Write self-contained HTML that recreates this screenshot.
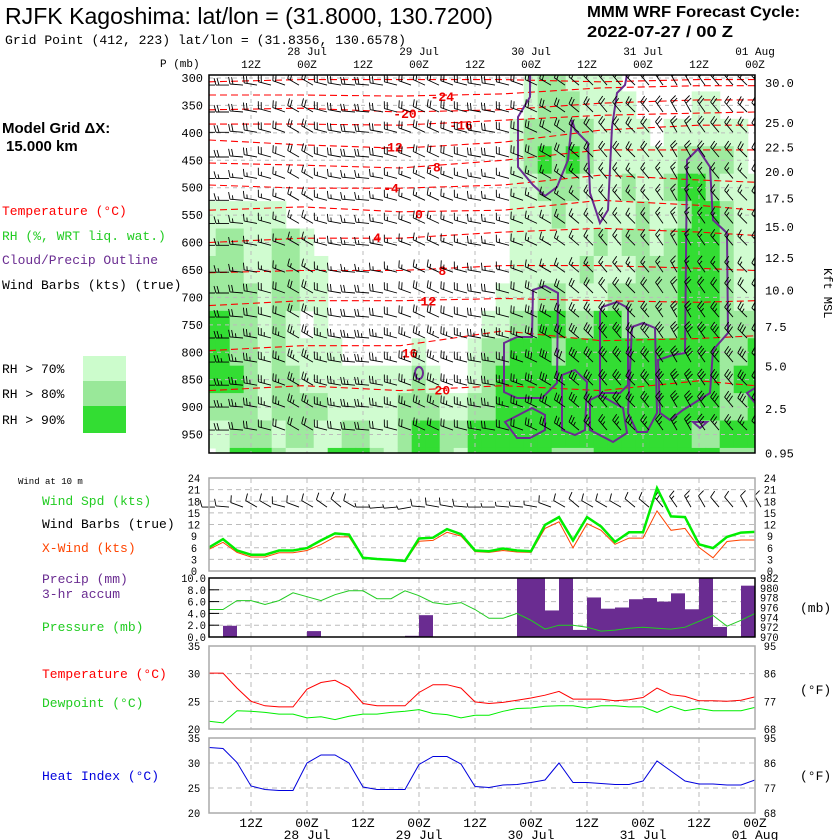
<!DOCTYPE html>
<html><head><meta charset="utf-8"><style>
html,body{margin:0;padding:0;background:#fff;}
svg{display:block;}
text{font-family:"Liberation Mono",monospace;}
.hd{font-family:"Liberation Sans",sans-serif;}
</style></head><body>
<svg id="chart" width="840" height="840" viewBox="0 0 840 840" xmlns="http://www.w3.org/2000/svg">
<g>
<text class="hd" x="5" y="24" font-size="23" textLength="488" lengthAdjust="spacingAndGlyphs">RJFK Kagoshima:  lat/lon = (31.8000, 130.7200)</text>
<text x="5" y="44" font-size="13" textLength="401" lengthAdjust="spacingAndGlyphs">Grid Point (412, 223) lat/lon = (31.8356, 130.6578)</text>
<text class="hd" x="587" y="17" font-size="16" font-weight="bold" textLength="213" lengthAdjust="spacingAndGlyphs">MMM WRF Forecast Cycle:</text>
<text class="hd" x="587" y="37" font-size="16" font-weight="bold" textLength="146" lengthAdjust="spacingAndGlyphs">2022-07-27 / 00  Z</text>
<text x="160" y="67" font-size="11">P (mb)</text>
</g>
<g>
<text class="hd" x="2" y="133" font-size="15" font-weight="bold">Model Grid ΔX:</text>
<text class="hd" x="6" y="151" font-size="15" font-weight="bold">15.000 km</text>
<text x="2" y="215" font-size="13" fill="#ff0000">Temperature (°C)</text>
<text x="2" y="240" font-size="13" fill="#22cc22">RH (%, WRT liq. wat.)</text>
<text x="2" y="264" font-size="13" fill="#6a2c91">Cloud/Precip Outline</text>
<text x="2" y="289" font-size="13" fill="#000">Wind Barbs (kts) (true)</text>
<rect x="83" y="356" width="43" height="25" fill="#ccfccc"/>
<rect x="83" y="381" width="43" height="25" fill="#99e899"/>
<rect x="83" y="406" width="43" height="27" fill="#33dd33"/>
<text x="2" y="373" font-size="13">RH &gt; 70%</text>
<text x="2" y="398" font-size="13">RH &gt; 80%</text>
<text x="2" y="424" font-size="13">RH &gt; 90%</text>
<text x="18" y="484" font-size="9">Wind at 10 m</text>
<text x="42" y="505" font-size="13" fill="#22cc22">Wind Spd (kts)</text>
<text x="42" y="528" font-size="13">Wind Barbs (true)</text>
<text x="42" y="552" font-size="13" fill="#ff4400">X-Wind (kts)</text>
<text x="42" y="583" font-size="13" fill="#6a2c91">Precip (mm)</text>
<text x="42" y="598" font-size="13" fill="#6a2c91">3-hr accum</text>
<text x="42" y="631" font-size="13" fill="#22cc22">Pressure (mb)</text>
<text x="42" y="678" font-size="13" fill="#ff0000">Temperature (°C)</text>
<text x="42" y="707" font-size="13" fill="#22cc22">Dewpoint (°C)</text>
<text x="42" y="780" font-size="13" fill="#0000dd">Heat Index (°C)</text>
<text x="800" y="612" font-size="13">(mb)</text>
<text x="800" y="694" font-size="13">(°F)</text>
<text x="800" y="780" font-size="13">(°F)</text>
<text x="0" y="0" font-size="12" transform="translate(824,268) rotate(90)">Kft MSL</text>
</g>
<g id="plots"></g>
</svg>
<script>
// ---------- data ----------
const hours = [3,6,9,12,15,18,21,24,27,30,33,36,39,42,45,48,51,54,57,60,63,66,69,72,75,78,81,84,87,90,93,96,99,102,105,108,111,114,117,120];
const windSpeed = [6.1,8.2,5.3,4.2,4.2,5.3,5.3,5.9,7.9,9.7,9.4,3.4,3.1,2.9,2.6,8.4,8.6,10.8,9.5,5.3,5.1,5.8,5.3,5.1,11.9,13.9,7.9,13.9,11.5,7.5,10,10,21.4,14.1,13.9,6.9,5.9,8.8,9.9,10.1];
const crossWind = [5.6,7.4,4.8,3.6,3.6,4.7,4.7,5.3,6.8,8.8,8.8,3.3,3.0,2.8,2.5,7.7,7.9,10.0,9.0,5.0,4.8,5.3,4.9,4.8,11.0,12.7,6.0,12.2,10.5,6.9,8.5,8.5,15.5,10.5,11.0,6.1,3.4,7.6,8.0,8.0];
const pressure = [975.6,975.6,977.4,977.4,976.6,977.4,979.0,978.2,977.4,978.6,979.4,979.4,977.8,977.8,979.4,978.4,977.0,976.6,977.0,975.6,973.8,973.8,974.8,973.4,971.6,972.4,972.4,972.0,971.2,971.4,971.8,972.0,971.8,971.6,972.0,973.2,974.4,972.2,973.4,974.8];
const precip = [0,0,1.9,0,0,0,0,0,1.0,0,0,0,0,0,0,0.2,3.7,0,0,0,0,0,0,10,10,4.5,10,1.2,6.7,4.8,5.0,6.4,6.6,6.0,7.4,4.7,10,1.7,0,8.7];
const sfcTemp = [30.1,30.1,27.4,25.0,24.2,24.0,24.0,27.2,28.4,28.8,27.5,24.6,24.2,24.2,24.2,26.6,28.0,28.0,27.4,24.9,24.6,24.8,25.2,25.6,26.1,26.8,25.4,25.4,25.4,25.1,25.3,25.7,27.4,26.2,25.9,25.1,25.1,25.0,25.2,25.8];
const dewpoint = [21.4,21.1,23.3,23.2,23.0,22.7,22.7,22.0,22.2,21.7,22.3,22.7,22.7,23.0,23.2,23.5,22.8,22.6,22.0,22.5,22.5,23.2,23.7,23.8,24.1,24.2,24.2,23.8,24.2,24.2,24.0,24.0,23.0,24.1,23.3,23.7,23.3,23.3,23.3,23.9];
const heatIndex = [33.1,32.9,30.1,25.4,24.7,24.5,24.5,30.0,31.6,31.6,30.0,25.2,24.7,24.7,24.7,29.7,31.3,31.3,29.8,25.3,25.1,25.6,25.7,26.1,26.6,30.0,26.1,26.1,25.9,25.7,25.7,26.4,30.4,28.4,26.4,25.8,25.8,25.6,25.6,26.6];
const timeTickHours = [12,24,36,48,60,72,84,96,108,120];
const timeTickLabels = ["12Z","00Z","12Z","00Z","12Z","00Z","12Z","00Z","12Z","00Z"];
const dateTickHours = [24,48,72,96,120];
const dateTickLabels = ["28 Jul","29 Jul","30 Jul","31 Jul","01 Aug"];
const pLevels = [300,350,400,450,500,550,600,650,700,750,800,850,900,950];
const kftLabels = ["30.0","25.0","22.5","20.0","17.5","15.0","12.5","10.0","7.5","5.0","2.5","0.95"];
const kftPress = [307,380,425,470,518,570,626,686,752,824,902,983];
const rhLevels = [300,350,400,450,500,550,600,650,700,750,800,850,900,950,1000];
const rhRows = [
"0000000000000000000000012211110000000000",
"0000000000000000000000012221111000011000",
"0000000000000000000000122222111101111110",
"0000000000000000000000123232111111222210",
"0000000000000000000000112221112112332111",
"1111110000000000000000111211111211233211",
"1221122100000000000000111111212212333211",
"2221122110000000000000111112111222333211",
"2222122110000000000001112211122222333211",
"3322121010000000000011223322332222333222",
"3322121111000001000122333233333333333223",
"3332122111111112100123333333333333333233",
"2222122221111122211223333333333333333223",
"1122212211221123322333333333333333322333",
"0133321113332123321333333222333333333222"];
const isoTemps = [-28,-24,-20,-16,-12,-8,-4,0,4,8,12,16,20];
const isoNodeHours = [3,23,44,66,87,108,120];
const isoPress = [
[307,303,303,303,307,303,303],
[331,331,333,329,318,314,314],
[358,355,362,358,346,340,340],
[384,384,386,377,368,364,362],
[413,422,428,417,395,386,386],
[455,459,464,450,431,431,431],
[495,501,501,495,477,486,490],
[541,535,544,541,523,532,541],
[600,592,592,581,574,581,587],
[655,651,651,642,642,647,651],
[715,706,706,702,706,709,706],
[797,788,788,761,779,775,770],
[870,861,870,861,870,852,861]];
const isoLabelTemps = [-24,-20,-16,-12,-8,-4,0,4,8,12,16,20];
const isoLabelHours = [53,45,57,42,51,42,48,39,53,50,46,53];
const isoLabelPress = [333,364,385,425,461,500,547,590,650,706,800,868];
const barbLevels = [313,362,399,444,483,523,565,605,654,692,736,774,818,860,900,942];
const barbSpeeds = [20,20,20,20,15,15,15,15,15,20,20,25,25,25,25,20];
const barbDirCols = [270,270,275,280,285,290,300,300,285,280,275,275,280,285,290,295,295,290,285,280,280,285,290,295,300,305,310,315,320,320,315,320,325,330,330,325,320,320,315,315];
const sfcBarbSpeed = [10,10,10,10,10,10,10,10,10,10,10,5,5,5,5,10,10,10,10,5,5,5,5,5,10,10,10,10,10,10,10,10,20,15,15,10,10,10,10,10];
const sfcBarbDir = [270,275,290,300,300,285,290,300,305,310,300,270,265,265,260,275,280,280,275,270,270,275,275,280,290,300,310,300,300,300,310,310,320,325,330,330,320,320,330,330];

// ---------- geometry ----------
const NS="http://www.w3.org/2000/svg";
const root=document.getElementById('plots');
const X0=209,X1=755,H0=3,H1=120;
function xH(h){return X0+(h-H0)*(X1-X0)/(H1-H0);}
const UP={top:75,bot:453};
function yP(p){return 78+(p-300)*0.5485;}
function mk(tag,attrs,parent){const e=document.createElementNS(NS,tag);for(const k in attrs)e.setAttribute(k,attrs[k]);(parent||root).appendChild(e);return e;}
function txt(x,y,s,size,anchor,fill,parent){const t=mk('text',{x:x,y:y,'font-size':size,'text-anchor':anchor||'start',fill:fill||'#000'},parent);t.textContent=s;return t;}
const grid='#bbbbbb';

// ---------- upper panel ----------
const up=mk('g',{});


const cp=mk('clipPath',{id:'upclip'},up);mk('rect',{x:X0,y:UP.top,width:X1-X0,height:UP.bot-UP.top},cp);
const rhG=mk('g',{'clip-path':'url(#upclip)'},up);


const rhCol=['none','#d0fcd0','#9eea9e','#33dd33'];
const cw=(X1-X0)/39;
rhRows.forEach((row,r)=>{
  const p=rhLevels[r];
  for(let i=0;i<40;i++){const c=+row[i];if(!c)continue;
    const cell=mk('rect',{x:xH(hours[i])-cw/2-0.3,y:yP(p-25)-0.3,width:cw+0.6,height:yP(p+25)-yP(p-25)+0.6,fill:rhCol[c]},rhG);
    
    
  }
});
pLevels.forEach(p=>{const l=mk('line',{x1:X0,x2:X1,y1:yP(p),y2:yP(p),stroke:grid,'stroke-dasharray':'4,4','stroke-width':1},up);
 
 const t=txt(203,yP(p)+4,String(p),12,'end','#000',up);});
timeTickHours.forEach((h,i)=>{const l=mk('line',{x1:xH(h),x2:xH(h),y1:UP.top,y2:UP.bot,stroke:grid,'stroke-dasharray':'4,4'},up);
 
 const t=txt(xH(h),68,timeTickLabels[i],11,'middle','#000',up);});
dateTickHours.forEach((h,i)=>{const t=txt(xH(h),55,dateTickLabels[i],11,'middle','#000',up);});
kftLabels.forEach((s,i)=>{const t=txt(765,yP(kftPress[i])+5,s,12,'start','#000',up);});
const isoG=mk('g',{'clip-path':'url(#upclip)'},up);


isoTemps.forEach((T,k)=>{
  let d='';isoNodeHours.forEach((h,j)=>{d+=(j?'L':'M')+xH(h).toFixed(1)+','+yP(isoPress[k][j]).toFixed(1);});
  const pth=mk('path',{d:d,fill:'none',stroke:'#ff0000','stroke-width':1.1,'stroke-dasharray':'7,4'},isoG);
  
  
});
isoLabelTemps.forEach((T,k)=>{const t=txt(xH(isoLabelHours[k]),yP(isoLabelPress[k])+5,String(T),13,'middle','#ee0000',up);
 t.setAttribute('font-weight','bold');t.setAttribute('font-family','Liberation Sans, sans-serif');
 });
const clouds=["M530,75 L530,97 518,117 518,167 533,185 545,196 557,187 568,160 572,120 575,130 588,143 590,193 600,223 608,210 612,127 617,93 625,85 627,75",
"M687,160 L698,149 710,167 713,220 727,233 728,333 713,350 710,393 683,410 670,420 660,413 658,360 673,355 685,353 Z",
"M533,290 L545,286 558,293 557,383 542,398 517,398 504,392 504,343 517,337 532,337 Z",
"M600,313 L602,307 617,302 628,308 628,385 620,393 600,393 Z",
"M632,327 L643,323 655,328 657,413 647,432 637,432 628,413 Z",
"M562,375 L575,370 587,382 585,430 575,435 562,430 Z",
"M590,400 L600,395 623,408 627,433 613,442 590,430 Z",
"M505,422 L532,408 545,415 545,430 530,438 517,438 Z",
"M693,422 L707,422 700,428 Z",
"M747,393 L755,388 755,403 Z"];
const clG=mk('g',{'clip-path':'url(#upclip)'},up);


clouds.forEach(d=>{const p=mk('path',{d:d,fill:'none',stroke:'#6a2c91','stroke-width':2},clG);});
const ring=mk('ellipse',{cx:419,cy:373,rx:4,ry:6,fill:'none',stroke:'#6a2c91','stroke-width':2},clG);

function barb(g,x,y,spd,dir,len){
  const a=(dir-90)*Math.PI/180;
  const ux=Math.cos(a),uy=Math.sin(a);
  const ex=x+ux*len,ey=y+uy*len;
  let d='M'+x.toFixed(1)+','+y.toFixed(1)+'L'+ex.toFixed(1)+','+ey.toFixed(1);
  const px=-uy,py=ux; let s=spd,pos=0;
  while(s>=10){const bx=ex-ux*pos,by=ey-uy*pos;d+='M'+bx.toFixed(1)+','+by.toFixed(1)+'l'+(px*7+ux*2).toFixed(1)+','+(py*7+uy*2).toFixed(1);s-=10;pos+=3;}
  if(s>=5){const bx=ex-ux*pos,by=ey-uy*pos;d+='M'+bx.toFixed(1)+','+by.toFixed(1)+'l'+(px*4+ux*1).toFixed(1)+','+(py*4+uy*1).toFixed(1);}
  const b=mk('path',{d:d,stroke:'#000','stroke-width':0.9,fill:'none'},g);
  
  
}
const bG=mk('g',{'clip-path':'url(#upclip)'},up);


barbLevels.forEach((p,r)=>{hours.forEach((h,i)=>{barb(bG,xH(h)+6,yP(p),barbSpeeds[r]+(i>22&&r>9?5:0),barbDirCols[i],13);});});
const upFrame=mk('rect',{x:X0,y:UP.top,width:X1-X0,height:UP.bot-UP.top,fill:'none',stroke:'#000','stroke-width':1.5},up);


// ---------- lower panels ----------
function panel(name,top,bot){
  const g=mk('g',{});
  timeTickHours.forEach(h=>{if(h>=120)return;const l=mk('line',{x1:xH(h),x2:xH(h),y1:top,y2:bot,stroke:grid,'stroke-dasharray':'5,4'},g);});
  return g;
}
function hline(g,y){const l=mk('line',{x1:X0,x2:X1,y1:y,y2:y,stroke:grid,'stroke-dasharray':'5,4'},g);}
function series(g,vals,yf,color,w,name){let d='';vals.forEach((v,i)=>{d+=(i?'L':'M')+xH(hours[i]).toFixed(1)+','+yf(v).toFixed(1);});
  const p=mk('path',{d:d,fill:'none',stroke:color,'stroke-width':w},g);}
function frame(g,top,bot,color){const r=mk('rect',{x:X0,y:top,width:X1-X0,height:bot-top,fill:'none',stroke:color,'stroke-width':1.5},g);}
function lab(g,x,y,s,anchor,name){const t=txt(x,y,s,11,anchor,'#000',g);t.setAttribute('textLength',String(s.length*6.2));t.setAttribute('lengthAdjust','spacingAndGlyphs');return t;}

const WT=478,WB=571;const yW=v=>WB-v*(WB-WT)/24;
const wg=panel('wind-panel',WT,WB);
const windTicks=[0,3,6,9,12,15,18,21,24];
windTicks.forEach(v=>{if(v>0&&v<24)hline(wg,yW(v));
 lab(wg,194,yW(v)+4,String(v),'middle','wind-tick-left');
 lab(wg,770,yW(v)+4,String(v),'middle','wind-tick-right');});
const sbG=mk('g',{},wg);
hours.forEach((h,i)=>barb(sbG,xH(h)+6,yW(16.5),sfcBarbSpeed[i],sfcBarbDir[i],13));
series(wg,crossWind,yW,'#ff4400',1,'xwind-line');
series(wg,windSpeed,yW,'#00ee00',2.5,'wind-speed-line');
frame(wg,WT,WB,'#aaaaaa');

const PT=578,PB=637;const yPr=v=>PB-Math.min(v,10.2)*(PB-PT)/10;const yPs=v=>PB-(v-970)*(PB-PT)/12;
const pg=panel('precip-pressure-panel',PT,PB);
const precipTicks=[0,2,4,6,8,10];
precipTicks.forEach(v=>{if(v>0&&v<10){hline(pg,yPr(v));const t=mk('line',{x1:X0,x2:X0+10,y1:yPr(v),y2:yPr(v),stroke:'#000'},pg);}
 lab(pg,206,yPr(v)+4,v.toFixed(1),'end','precip-tick-label');});
const presTicks=[970,972,974,976,978,980,982];
presTicks.forEach(v=>{lab(pg,760,yPs(v)+4,String(v),'start','pressure-tick-label');});
precip.forEach((v,i)=>{if(v<=0)return;const x1=xH(hours[i]-3),x2=xH(hours[i]);
 const r=mk('rect',{x:x1,y:yPr(v),width:x2-x1,height:PB-yPr(v),fill:'#6a2c91'},pg);
 });
series(pg,pressure,yPs,'#22cc22',1,'pressure-line');
frame(pg,PT,PB,'#000');

const TT=646,TB=729;const yT=v=>TB-(v-20)*(TB-TT)/15;
const tg=panel('temperature-panel',TT,TB);
const tempTicks=[20,25,30,35];const tempFTicks=["68","77","86","95"];
tempTicks.forEach((v,i)=>{if(v>20&&v<35)hline(tg,yT(v));
 lab(tg,194,yT(v)+4,String(v),'middle','temp-tick-left');
 lab(tg,770,yT(v)+4,tempFTicks[i],'middle','temp-tick-right');});
series(tg,dewpoint,yT,'#00ee00',1,'dewpoint-line');
series(tg,sfcTemp,yT,'#ff0000',1,'temperature-line');
frame(tg,TT,TB,'#aaaaaa');

const HT=738,HB=813;const yHI=v=>HB-(v-20)*(HB-HT)/15;
const hg=panel('heat-index-panel',HT,HB);
tempTicks.forEach((v,i)=>{if(v>20&&v<35)hline(hg,yHI(v));
 lab(hg,194,yHI(v)+4,String(v),'middle','heat-tick-left');
 lab(hg,770,yHI(v)+4,tempFTicks[i],'middle','heat-tick-right');});
series(hg,heatIndex,yHI,'#0000dd',1,'heat-index-line');
frame(hg,HT,HB,'#aaaaaa');
timeTickHours.forEach((h,i)=>{const t=txt(xH(h),827,timeTickLabels[i],13,'middle','#000');});
dateTickHours.forEach((h,i)=>{const t=txt(xH(h),839,dateTickLabels[i],13,'middle','#000');});
</script>
</body></html>
